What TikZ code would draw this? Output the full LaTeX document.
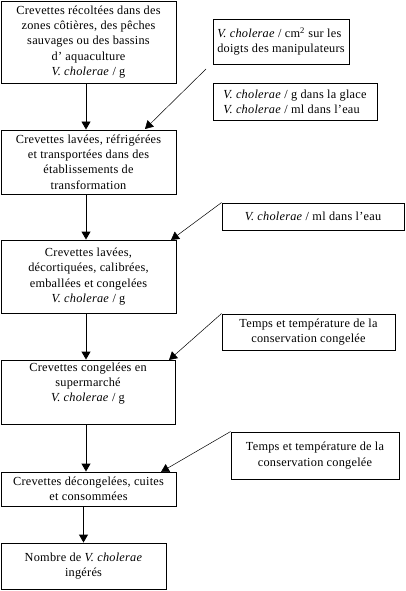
\documentclass[tikz,border=0pt]{standalone}
\usepackage{fontspec}
\setmainfont[LetterSpace=2]{Liberation Serif}
\usetikzlibrary{arrows.meta}
\tikzset{
  stage/.style={draw, line width=0.9pt, align=center, inner sep=0pt, font=\fontsize{12.3}{15.3}\selectfont},
  side/.style={draw, line width=0.9pt, inner sep=0pt, font=\fontsize{12.3}{15.3}\selectfont},
  flow/.style={line width=0.9pt, -{Triangle[width=9pt,length=8pt]}},
  feed/.style={line width=0.5pt, -{Triangle[width=9pt,length=8pt]}}
}
\newcommand{\vc}{\textit{V. cholerae}}
\begin{document}
\begin{tikzpicture}[x=1pt,y=-1pt]
\useasboundingbox (0,0) rectangle (406,591);
% main stages
\node[stage, minimum width=175pt, minimum height=82pt] (b1) at (88.5,42)
  {Crevettes récoltées dans des\\zones côtières, des pêches\\sauvages ou des bassins\\d’ aquaculture\\\vc{} / g};
\node[stage, minimum width=175pt, minimum height=64pt] (b2) at (88.5,162)
  {Crevettes lavées, réfrigérées\\et transportées dans des\\établissements de\\transformation};
\node[stage, minimum width=175pt, minimum height=73pt] (b3) at (88.5,276.5)
  {Crevettes lavées,\\décortiquées, calibrées,\\emballées et congelées\\\vc{} / g};
\node[stage, minimum width=174pt, minimum height=64pt] (b4) at (88,392)
  {Crevettes congelées en\\supermarché\\\vc{} / g\\[4pt]};
\node[stage, minimum width=175pt, minimum height=34pt] (b5) at (88.5,489)
  {Crevettes décongelées, cuites\\et consommées};
\node[stage, minimum width=165pt, minimum height=46pt] (b6) at (83.5,566)
  {Nombre de \vc\\ingérés};
% side boxes
\node[side, align=left, minimum width=136pt, minimum height=45pt] (s1) at (281,41.5)
  {\vc{} / cm\textsuperscript{2} sur les\\doigts des manipulateurs};
\node[side, align=left, minimum width=164pt, minimum height=37pt] (s2) at (295,101.5)
  {\vc{} / g dans la glace\\\vc{} / ml dans l’eau};
\node[side, align=center, minimum width=182pt, minimum height=27pt] (s3) at (313,216.5)
  {\vc{} / ml dans l’eau};
\node[side, align=center, minimum width=173pt, minimum height=36pt] (s4) at (308.5,332)
  {Temps et température de la\\conservation congelée};
\node[side, align=center, minimum width=168pt, minimum height=47pt] (s5) at (315,455.5)
  {Temps et température de la\\conservation congelée};
% vertical flow
\coordinate (ax) at (86,0);
\draw[flow] (b1.south -| ax) -- (b2.north -| ax);
\draw[flow] (b2.south -| ax) -- (b3.north -| ax);
\draw[flow] (b3.south -| ax) -- (b4.north -| ax);
\draw[flow] (b4.south -| ax) -- (b5.north -| ax);
\draw[flow] (b5.south -| b6.north) -- (b6.north);
% feeding arrows
\coordinate (f1) at (206,69);
\coordinate (t1) at (145,129);
\coordinate (t2) at (171,240);
\coordinate (t3) at (169,360);
\coordinate (t4) at (161,472);
\draw[feed] (f1) -- (t1);
\draw[feed] (s3.north west) -- (t2);
\draw[feed] (s4.north west) -- (t3);
\draw[feed] (s5.north west) -- (t4);
\end{tikzpicture}
\end{document}
